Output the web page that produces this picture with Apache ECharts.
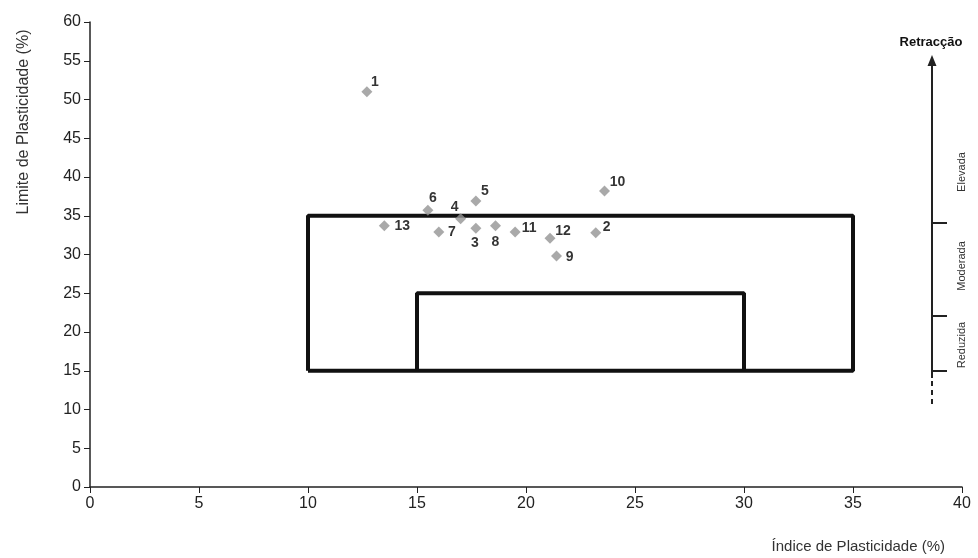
<!DOCTYPE html>
<html>
<head>
<meta charset="utf-8">
<script src="https://cdn.jsdelivr.net/npm/echarts@6/dist/echarts.min.js"></script>
<style>
  html, body { margin: 0; padding: 0; background: #fff; }
  #chart { width: 978px; height: 558px; }
</style>
</head>
<body>
<div id="chart"></div>
<script>
// amostras: Índice de Plasticidade (x) e Limite de Plasticidade (y)
var sampleIds = ['1', '2', '3', '4', '5', '6', '7', '8', '9', '10', '11', '12', '13'];
var plasticityIndex = [12.7, 23.2, 17.7, 17.0, 17.7, 15.5, 16.0, 18.6, 21.4, 23.6, 19.5, 21.1, 13.5];
var plasticLimit = [51.0, 32.8, 33.4, 34.6, 36.9, 35.7, 32.9, 33.7, 29.8, 38.2, 32.9, 32.1, 33.7];

// zonas (rectângulos)
var outerZone = [[10, 15], [10, 35], [35, 35], [35, 15], [10, 15]];
var innerZone = [[15, 15], [15, 25], [30, 25], [30, 15]];

// desvio das etiquetas em relação ao ponto (px)
var labelOffsets = [[8, -10], [11, -6], [-1, 15], [-6, -12], [9, -10], [5, -12], [13, 0], [0, 16], [13, 1], [13, -9], [14, -4], [13, -7], [18, 0]];

var chart = echarts.init(document.getElementById('chart'));

var points = [];
for (var i = 0; i < sampleIds.length; i++) {
  points.push({
    value: [plasticityIndex[i], plasticLimit[i]],
    name: sampleIds[i],
    label: { offset: labelOffsets[i] }
  });
}

var font = 'Liberation Sans, Arial, sans-serif';

var option = {
  animation: false,
  backgroundColor: '#fff',
  grid: { left: 90, right: 16, top: 22, bottom: 71 },
  xAxis: {
    type: 'value', min: 0, max: 40, interval: 5,
    splitLine: { show: false },
    axisLine: { lineStyle: { color: '#222', width: 1.5 } },
    axisTick: { length: 6, lineStyle: { color: '#222' } },
    axisLabel: { color: '#222', fontSize: 16, fontFamily: font, margin: 9 }
  },
  yAxis: {
    type: 'value', min: 0, max: 60, interval: 5,
    splitLine: { show: false },
    axisLine: { show: true, lineStyle: { color: '#222', width: 1.5 } },
    axisTick: { show: true, length: 6, lineStyle: { color: '#222' } },
    axisLabel: { color: '#222', fontSize: 16, fontFamily: font, margin: 9 }
  },
  series: [
    {
      type: 'line', data: outerZone, showSymbol: false, silent: true, z: 1,
      lineStyle: { color: '#111', width: 4 }
    },
    {
      type: 'line', data: innerZone, showSymbol: false, silent: true, z: 1,
      lineStyle: { color: '#111', width: 4 }
    },
    {
      type: 'scatter', data: points, symbol: 'diamond', symbolSize: 11, z: 5,
      itemStyle: { color: '#939393' },
      label: {
        show: true, position: 'inside', formatter: '{b}',
        color: '#000', fontSize: 14, fontWeight: 'bold', fontFamily: font
      }
    }
  ],
  graphic: [
    {
      type: 'text', x: 24, y: 122, rotation: Math.PI / 2,
      style: { text: 'Limite de Plasticidade (%)', fill: '#333', fontSize: 16, fontFamily: font, align: 'center', verticalAlign: 'middle' }
    },
    {
      type: 'text', x: 945, y: 547,
      style: { text: 'Índice de Plasticidade (%)', fill: '#333', fontSize: 15, fontFamily: font, align: 'right', verticalAlign: 'middle' }
    },
    // escala de retracção
    {
      type: 'text', x: 931, y: 42,
      style: { text: 'Retracção', fill: '#111', fontSize: 13, fontWeight: 'bold', fontFamily: font, align: 'center', verticalAlign: 'middle' }
    },
    { type: 'line', shape: { x1: 932, y1: 378, x2: 932, y2: 62 }, style: { stroke: '#222', lineWidth: 2 } },
    { type: 'polygon', shape: { points: [[932, 55], [927.5, 66], [936.5, 66]] }, style: { fill: '#222' } },
    { type: 'line', shape: { x1: 932, y1: 381, x2: 932, y2: 405 }, style: { stroke: '#222', lineWidth: 2, lineDash: [5, 4] } },
    { type: 'line', shape: { x1: 932, y1: 223, x2: 947, y2: 223 }, style: { stroke: '#222', lineWidth: 2 } },
    { type: 'line', shape: { x1: 932, y1: 316, x2: 947, y2: 316 }, style: { stroke: '#222', lineWidth: 2 } },
    { type: 'line', shape: { x1: 932, y1: 371, x2: 947, y2: 371 }, style: { stroke: '#222', lineWidth: 2 } },
    {
      type: 'text', x: 962, y: 172, rotation: Math.PI / 2,
      style: { text: 'Elevada', fill: '#333', fontSize: 11, fontFamily: font, align: 'center', verticalAlign: 'middle' }
    },
    {
      type: 'text', x: 962, y: 266, rotation: Math.PI / 2,
      style: { text: 'Moderada', fill: '#333', fontSize: 11, fontFamily: font, align: 'center', verticalAlign: 'middle' }
    },
    {
      type: 'text', x: 962, y: 345, rotation: Math.PI / 2,
      style: { text: 'Reduzida', fill: '#333', fontSize: 11, fontFamily: font, align: 'center', verticalAlign: 'middle' }
    }
  ]
};

chart.setOption(option);
</script>
</body>
</html>
